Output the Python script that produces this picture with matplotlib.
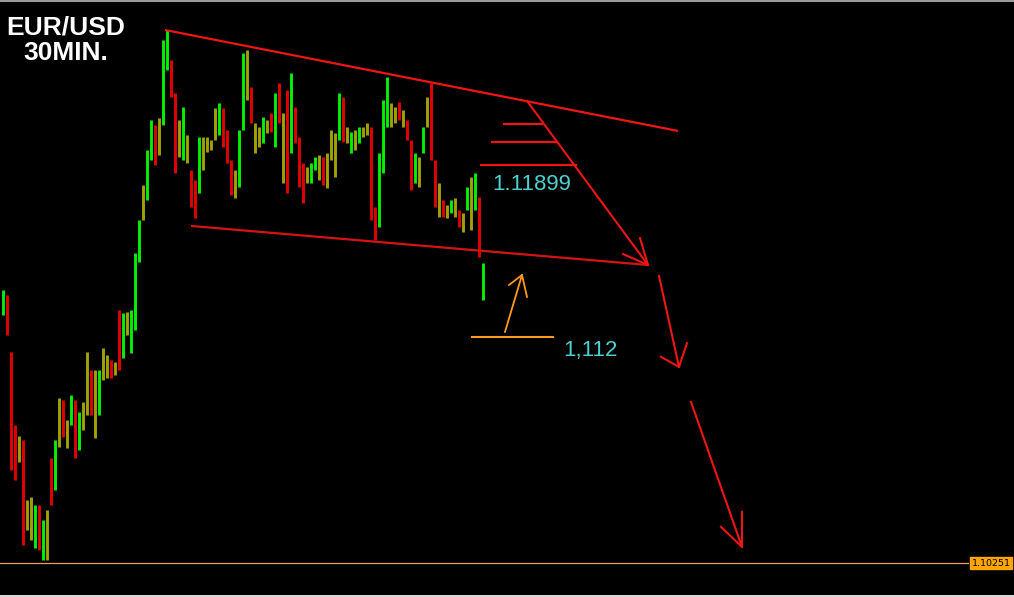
import matplotlib
matplotlib.use('Agg')
import matplotlib.pyplot as plt

# ---------------- data (30-minute bars, EUR/USD) ----------------
high = [1.11398, 1.11377, 1.11138, 1.10831, 1.10785, 1.10768, 1.10516, 1.10529, 1.10495, 1.10495,
        1.10432, 1.10474, 1.10692, 1.10768, 1.10944, 1.10936, 1.10852, 1.10957, 1.10936, 1.10886,
        1.10928, 1.11138, 1.11062, 1.11062, 1.11062, 1.11154, 1.11125, 1.11104, 1.11096, 1.11314,
        1.11301, 1.11306, 1.11314, 1.11553, 1.11692, 1.11839, 1.11986, 1.12112, 1.12091, 1.12120,
        1.12448, 1.12490, 1.12364, 1.12225, 1.12112, 1.12167, 1.12049, 1.11902, 1.11860, 1.12041,
        1.12041, 1.12041, 1.12028, 1.12162, 1.12183, 1.12162, 1.12070, 1.11944, 1.11902, 1.12070,
        1.12393, 1.12406, 1.12251, 1.12099, 1.12083, 1.12125, 1.12112, 1.12141, 1.12225, 1.12267,
        1.12141, 1.12238, 1.12309, 1.12167, 1.12041, 1.11931, 1.11915, 1.11931, 1.11957, 1.11965,
        1.11957, 1.11973, 1.12070, 1.12057, 1.12225, 1.12209, 1.12083, 1.12062, 1.12070, 1.12083,
        1.12083, 1.12099, 1.12083, 1.11747, 1.11973, 1.12196, 1.12293, 1.12183, 1.12167, 1.12188,
        1.12154, 1.12112, 1.12028, 1.11973, 1.11957, 1.12083, 1.12209, 1.12267, 1.11944, 1.11847,
        1.11776, 1.11755, 1.11776, 1.11784, 1.11734, 1.11721, 1.11831, 1.11873, 1.11889, 1.11789,
        1.11511]
low = [1.11293, 1.11209, 1.10642, 1.10600, 1.10676, 1.10327, 1.10390, 1.10348, 1.10314, 1.10306,
       1.10264, 1.10264, 1.10495, 1.10558, 1.10739, 1.10781, 1.10734, 1.10831, 1.10692, 1.10726,
       1.10810, 1.10873, 1.10873, 1.10776, 1.10873, 1.11020, 1.11028, 1.11028, 1.11041, 1.11062,
       1.11112, 1.11209, 1.11133, 1.11230, 1.11516, 1.11692, 1.11776, 1.11944, 1.11923, 1.11965,
       1.12091, 1.12322, 1.12209, 1.11889, 1.11957, 1.11944, 1.11931, 1.11747, 1.11700, 1.11805,
       1.11902, 1.11978, 1.11986, 1.12028, 1.12049, 1.11999, 1.11931, 1.11797, 1.11784, 1.11831,
       1.12070, 1.12196, 1.12099, 1.11973, 1.11999, 1.12015, 1.12057, 1.12062, 1.11999, 1.12099,
       1.11847, 1.11805, 1.11973, 1.12015, 1.11831, 1.11763, 1.11847, 1.11847, 1.11902, 1.11860,
       1.11839, 1.11826, 1.11944, 1.11873, 1.12028, 1.12020, 1.12015, 1.11973, 1.11986, 1.12015,
       1.12041, 1.12049, 1.11692, 1.11608, 1.11663, 1.11889, 1.12083, 1.12083, 1.12099, 1.12112,
       1.12083, 1.12028, 1.11818, 1.11847, 1.11831, 1.11973, 1.12083, 1.11944, 1.11747, 1.11705,
       1.11705, 1.11700, 1.11721, 1.11705, 1.11663, 1.11642, 1.11734, 1.11650, 1.11734, 1.11537,
       1.11356]
# bar colour: g = up (green), r = down (red), o = neutral (olive)
tone = list("grrroroogr" "gorgorogrg" "oorogooror" "gogggoggro"
            "ggrrogorrg" "oooogrrrog" "goroogorgr" "orgrrroggo"
            "rooogrogog" "oorrgggoor" "orrgogorro" "rogorogogr" "g")

level_price = 1.10251
level_label = "1.10251"
title_lines = ["EUR/USD", "30MIN."]
label_a_text, label_a_pos = "1.11899", (122.25, 1.11839)
label_b_text, label_b_pos = "1,112", (140.0, 1.11146)

# drawn analysis objects (bar index, price)
upper_trend = [(40.5, 1.12490), (168.75, 1.12066)]
lower_trend = [(47.0, 1.11667), (161.25, 1.11503)]
steps = [((125.25, 1.12095), (134.75, 1.12095)),
         ((122.25, 1.12020), (138.5, 1.12020)),
         ((119.5, 1.11923), (143.25, 1.11923))]
red_arrows = [  # (tail, tip, head1, head2)
    ((131.0, 1.12192), (161.25, 1.11503), (155.0, 1.11549), (159.25, 1.11616)),
    ((164.0, 1.11457), (169.0, 1.11075), (164.5, 1.11117), (171.0, 1.11175)),
    ((172.0, 1.10928), (184.75, 1.10319), (179.5, 1.10403), (184.75, 1.10466)),
]
orange_line = [(117.25, 1.11201), (137.5, 1.11201)]
orange_arrow = ((125.5, 1.11222), (129.75, 1.11461), (126.5, 1.11419), (131.0, 1.11369))

# ---------------- drawing ----------------
W, H = 1014, 597
fig = plt.figure(figsize=(W / 100, H / 100), dpi=100)
fig.patch.set_facecolor('black')
ax = fig.add_axes([0, 0, 1, 1])
ax.set_facecolor('black')
ax.set_xlim(-0.75, 252.75)
ax.set_ylim(1.101086, 1.12616)
ax.axis('off')

palette = {'g': '#00f000', 'r': '#e00000', 'o': '#a0a000'}
n = len(high)
ax.vlines(list(range(n)), low, high, colors=[palette[c] for c in tone[:n]], linewidth=2.1)

RED = '#ee1515'
ax.plot(*zip(*upper_trend), color=RED, lw=1.6, solid_capstyle='butt')
ax.plot(*zip(*lower_trend), color='#d41414', lw=1.6, solid_capstyle='butt')
for a, b in steps:
    ax.plot([a[0], b[0]], [a[1], b[1]], color=RED, lw=1.6)
for tail, tip, h1, h2 in red_arrows:
    ax.plot([tail[0], tip[0]], [tail[1], tip[1]], color=RED, lw=1.5)
    ax.plot([h1[0], tip[0], h2[0]], [h1[1], tip[1], h2[1]], color=RED, lw=1.5)

ORANGE = '#ff9a20'
ax.plot(*zip(*orange_line), color=ORANGE, lw=1.5)
tail, tip, h1, h2 = orange_arrow
ax.plot([tail[0], tip[0]], [tail[1], tip[1]], color=ORANGE, lw=1.3)
ax.plot([h1[0], tip[0], h2[0]], [h1[1], tip[1], h2[1]], color=ORANGE, lw=1.3)

CYAN = '#4cd0d0'
ax.text(*label_a_pos, label_a_text, color=CYAN, fontsize=16, family='Liberation Sans',
        ha='left', va='center')
ax.text(*label_b_pos, label_b_text, color=CYAN, fontsize=16, family='Liberation Sans',
        ha='left', va='center')

# price level line and tag
ax.axhline(level_price, xmin=0, xmax=968 / W, color='#e8a060', lw=0.9)
fig.text(991 / W, 1 - 563 / H, level_label, color='black', fontsize=6.8,
         family='DejaVu Sans', ha='center', va='center',
         bbox=dict(boxstyle='square,pad=0.18', facecolor='#ffa500', edgecolor='#ffa500'))

# title
fig.text(66 / W, 1 - 27.5 / H, title_lines[0], color='white', fontsize=19,
         family='Liberation Sans', fontweight='bold', ha='center', va='center')
fig.text(66 / W, 1 - 52.5 / H, title_lines[1], color='white', fontsize=19,
         family='Liberation Sans', fontweight='bold', ha='center', va='center')

# window frame lines
fig.add_artist(plt.Line2D([0, 1], [1 - 1 / H, 1 - 1 / H], color='#9a9a9a', lw=1.5,
                          transform=fig.transFigure))
fig.add_artist(plt.Line2D([0, 1], [1.5 / H, 1.5 / H], color='#d8d8d8', lw=2.2,
                          transform=fig.transFigure))

fig.savefig('out.png', dpi=100, facecolor='black')
